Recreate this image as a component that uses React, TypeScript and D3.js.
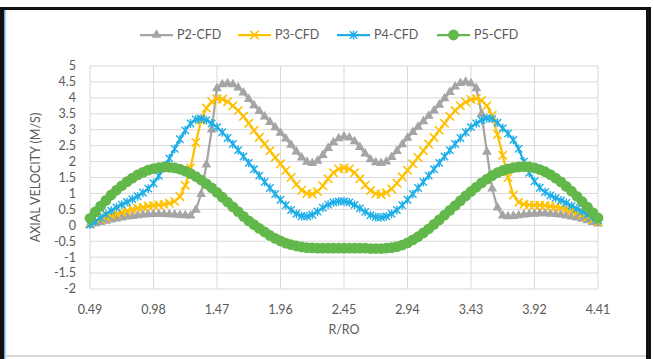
import React from 'react';
import * as d3 from 'd3';

const W = 654;
const H = 359;

const xTickLabels = ["0.49", "0.98", "1.47", "1.96", "2.45", "2.94", "3.43", "3.92", "4.41"];
const yTicks = [5, 4.5, 4, 3.5, 3, 2.5, 2, 1.5, 1, 0.5, 0, -0.5, -1, -1.5, -2];
const seriesNames = ["P2-CFD", "P3-CFD", "P4-CFD", "P5-CFD"];

const p2 = [
  0.02, 0.06, 0.10, 0.14, 0.18, 0.21, 0.24, 0.27, 0.29, 0.31,
  0.33, 0.34, 0.35, 0.35, 0.35, 0.34, 0.33, 0.32, 0.31, 0.30,
  0.48, 0.98, 1.90, 3.00, 4.30, 4.42, 4.45, 4.42, 4.32, 4.16,
  3.96, 3.76, 3.58, 3.41, 3.24, 3.07, 2.90, 2.72, 2.52, 2.31,
  2.12, 1.99, 1.95, 2.02, 2.20, 2.42, 2.60, 2.73, 2.78, 2.75,
  2.63, 2.45, 2.25, 2.07, 1.97, 1.95, 2.00, 2.14, 2.33, 2.54,
  2.74, 2.92, 3.09, 3.26, 3.43, 3.60, 3.78, 3.98, 4.18, 4.35,
  4.46, 4.50, 4.45, 4.30, 3.50, 2.30, 1.15, 0.55, 0.30, 0.28,
  0.29, 0.31, 0.33, 0.35, 0.36, 0.37, 0.37, 0.36, 0.35, 0.33,
  0.30, 0.27, 0.24, 0.20, 0.15, 0.10, 0.05,
];

const p3 = [
  0.05, 0.12, 0.19, 0.25, 0.31, 0.36, 0.41, 0.45, 0.50, 0.54,
  0.57, 0.60, 0.62, 0.64, 0.66, 0.69, 0.75, 0.90, 1.25, 1.80,
  2.60, 3.30, 3.68, 3.88, 3.97, 3.96, 3.88, 3.75, 3.60, 3.42,
  3.20, 2.98, 2.76, 2.55, 2.34, 2.13, 1.93, 1.72, 1.50, 1.28,
  1.10, 1.00, 0.98, 1.06, 1.24, 1.46, 1.65, 1.77, 1.80, 1.77,
  1.65, 1.46, 1.26, 1.09, 0.99, 0.97, 1.02, 1.14, 1.32, 1.52,
  1.73, 1.93, 2.13, 2.34, 2.55, 2.76, 2.98, 3.20, 3.42, 3.60,
  3.75, 3.87, 3.95, 3.98, 3.92, 3.75, 3.45, 2.85, 2.20, 1.50,
  0.95, 0.72, 0.66, 0.64, 0.63, 0.63, 0.62, 0.60, 0.58, 0.55,
  0.51, 0.46, 0.40, 0.33, 0.26, 0.18, 0.10,
];

const p4 = [
  0.02, 0.12, 0.24, 0.35, 0.46, 0.56, 0.65, 0.73, 0.82, 0.91,
  1.02, 1.15, 1.32, 1.55, 1.82, 2.10, 2.40, 2.70, 2.98, 3.20,
  3.32, 3.35, 3.30, 3.20, 3.08, 2.92, 2.74, 2.55, 2.36, 2.16,
  1.96, 1.76, 1.56, 1.36, 1.17, 0.98, 0.80, 0.63, 0.48, 0.36,
  0.29, 0.28, 0.33, 0.43, 0.55, 0.65, 0.72, 0.75, 0.75, 0.72,
  0.64, 0.53, 0.42, 0.32, 0.26, 0.25, 0.28, 0.36, 0.48, 0.63,
  0.80, 0.98, 1.17, 1.36, 1.56, 1.76, 1.96, 2.16, 2.36, 2.55,
  2.74, 2.92, 3.08, 3.20, 3.30, 3.36, 3.34, 3.22, 3.05, 2.88,
  2.68, 2.40, 2.00, 1.65, 1.38, 1.18, 1.04, 0.94, 0.86, 0.78,
  0.70, 0.61, 0.52, 0.43, 0.34, 0.25, 0.16,
];

const p5 = [
  0.22, 0.42, 0.60, 0.78, 0.95, 1.10, 1.24, 1.37, 1.48, 1.58,
  1.66, 1.73, 1.78, 1.81, 1.83, 1.82, 1.80, 1.76, 1.70, 1.62,
  1.53, 1.42, 1.30, 1.17, 1.03, 0.88, 0.73, 0.58, 0.43, 0.28,
  0.14, 0.02, -0.10, -0.21, -0.32, -0.41, -0.49, -0.56, -0.61, -0.65,
  -0.68, -0.70, -0.71, -0.72, -0.72, -0.72, -0.72, -0.72, -0.72, -0.72,
  -0.72, -0.72, -0.72, -0.73, -0.73, -0.73, -0.72, -0.70, -0.67, -0.62,
  -0.55, -0.46, -0.36, -0.24, -0.11, 0.03, 0.17, 0.32, 0.47, 0.62,
  0.77, 0.92, 1.06, 1.20, 1.33, 1.45, 1.56, 1.65, 1.72, 1.77,
  1.81, 1.83, 1.84, 1.83, 1.80, 1.75, 1.68, 1.59, 1.48, 1.36,
  1.22, 1.07, 0.91, 0.74, 0.57, 0.40, 0.23,
];

const colors = ["#A5A5A5", "#FFC000", "#1EAEE8", "#62B84B"];
const FONT = "Lato, 'Liberation Sans', sans-serif";
const TXT = "#595959";

const PL = 90, PR = 598, PT = 66, PB = 289;

function Marker({ kind, x, y, color }: { kind: number; x: number; y: number; color: string }) {
  if (kind === 0) {
    const p = d3.symbol().type(d3.symbolTriangle).size(42)();
    return <path d={p || ''} transform={`translate(${x},${y})`} fill={color} />;
  }
  if (kind === 1) {
    const s = 4.2;
    return (
      <path d={`M${-s},${-s}L${s},${s}M${-s},${s}L${s},${-s}`} transform={`translate(${x},${y})`}
        stroke={color} strokeWidth={1.6} fill="none" />
    );
  }
  if (kind === 2) {
    const s = 3.7;
    return (
      <path d={`M${-s},${-s}L${s},${s}M${-s},${s}L${s},${-s}M0,${-s - 0.7}L0,${s + 0.7}`}
        transform={`translate(${x},${y})`} stroke={color} strokeWidth={1.4} fill="none" />
    );
  }
  return <circle cx={x} cy={y} r={5.4} fill={color} />;
}

export default function App() {
  const series = [p2, p3, p4, p5];
  const n = p2.length;
  const x = d3.scaleLinear().domain([0, n - 1]).range([PL, PR]);
  const y = d3.scaleLinear().domain([-2, 5]).range([PB, PT]);
  const step = (n - 1) / (xTickLabels.length - 1);
  const line = d3.line<number>().x((_, i) => x(i)).y((d) => y(d));

  const legendX = [140, 238, 337, 437];

  return (
    <div style={{ position: 'fixed', left: 0, top: 0 }}>
      <svg width={W} height={H} style={{ display: 'block', background: '#fff' }}>
        <rect x={0} y={0} width={W} height={H} fill="#fff" />
        {/* frame */}
        <rect x={0} y={7} width={651} height={3} fill="#111" />
        <rect x={0} y={7} width={4} height={H - 7} fill="#111" />
        <rect x={4} y={10} width={1.5} height={H - 10} fill="#6fa8dc" />
        <rect x={646} y={7} width={5} height={H - 7} fill="#111" />
        <rect x={5} y={355} width={641} height={2} fill="#d9d9d9" />

        {/* gridlines */}
        {yTicks.map((t) => (
          <line key={'gy' + t} x1={PL} x2={PR} y1={y(t)} y2={y(t)} stroke="#D9D9D9" strokeWidth={1} />
        ))}
        {xTickLabels.map((l, k) => (
          <line key={'gx' + l} x1={x(k * step)} x2={x(k * step)} y1={PT} y2={PB} stroke="#D9D9D9" strokeWidth={1} />
        ))}

        {/* y labels */}
        {yTicks.map((t) => (
          <text key={'ly' + t} x={76} y={y(t)} dy="0.35em" textAnchor="end" fontFamily={FONT} fontSize={12.5} fill={TXT}>
            {String(t)}
          </text>
        ))}
        {/* x labels */}
        {xTickLabels.map((l, k) => (
          <text key={'lx' + l} x={x(k * step)} y={310} dy="0.35em" textAnchor="middle" fontFamily={FONT} fontSize={12.5} fill={TXT}>
            {l}
          </text>
        ))}
        <text x={(PL + PR) / 2} y={330} dy="0.35em" textAnchor="middle" fontFamily={FONT} fontSize={12.5} fill={TXT}>R/RO</text>
        <text transform={`translate(36,${(PT + PB) / 2}) rotate(-90)`} dy="0.35em" textAnchor="middle" fontFamily={FONT} fontSize={12.5} fill={TXT}>
          AXIAL VELOCITY (M/S)
        </text>

        {/* series */}
        {series.map((s, si) => (
          <g key={'s' + si}>
            <path d={line(s) || ''} fill="none" stroke={colors[si]} strokeWidth={2.25} strokeLinejoin="round" />
            {s.map((v, i) => (
              <Marker key={i} kind={si} x={x(i)} y={y(v)} color={colors[si]} />
            ))}
          </g>
        ))}

        {/* legend */}
        {seriesNames.map((name, si) => (
          <g key={'lg' + si}>
            <line x1={legendX[si]} x2={legendX[si] + 33} y1={35} y2={35} stroke={colors[si]} strokeWidth={2.25} />
            <Marker kind={si} x={legendX[si] + 16.5} y={35} color={colors[si]} />
            <text x={legendX[si] + 37} y={35} dy="0.35em" fontFamily={FONT} fontSize={12.5} fill={TXT}>{name}</text>
          </g>
        ))}
      </svg>
    </div>
  );
}
